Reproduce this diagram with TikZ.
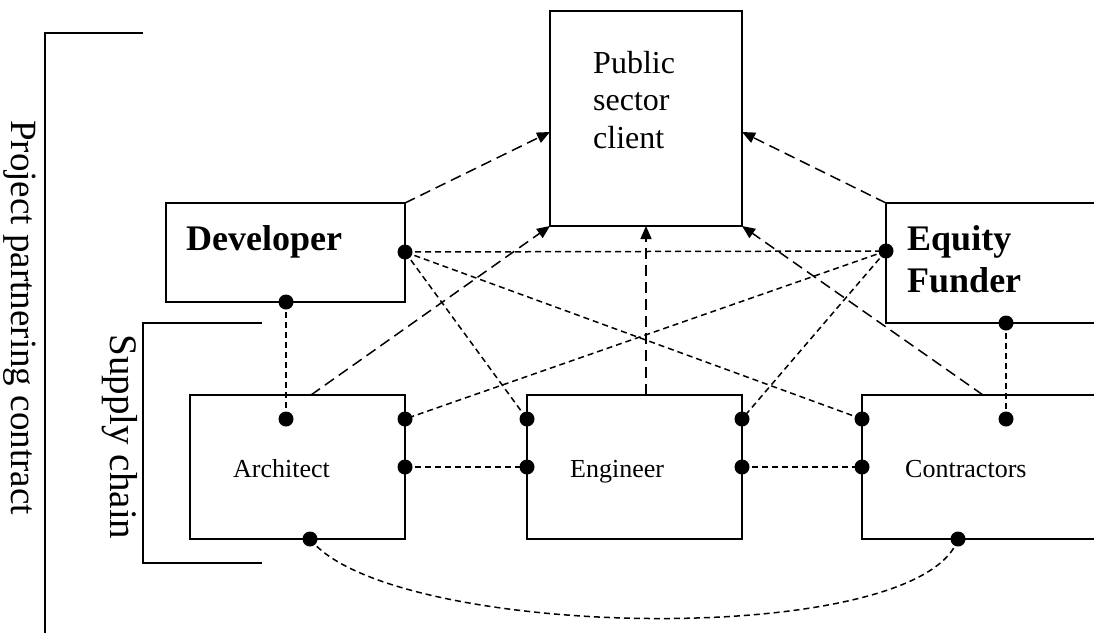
\documentclass[tikz,border=0pt]{standalone}
\usepackage{fontspec}
\setmainfont{Liberation Serif}
\usetikzlibrary{arrows.meta}
\begin{document}
\begin{tikzpicture}[x=1pt,y=-1pt,
 box/.style={draw, line width=1.8pt, inner sep=0pt, outer sep=0pt, rectangle},
 arr/.style={line width=1.5pt, dash pattern=on 11pt off 6pt, -{Triangle[length=13pt,width=11pt]}},
 lnk/.style={line width=1.5pt, dash pattern=on 6pt off 4pt},
 dot/.style={circle, fill=black, inner sep=0pt, outer sep=0pt, minimum size=15pt},
 lbl/.style={inner sep=0pt, anchor=base west, font=\fontsize{26}{30}\selectfont},
 big/.style={inner sep=0pt, anchor=base west, font=\fontsize{36}{42}\selectfont\bfseries},
 brk/.style={line width=1.8pt}]
\useasboundingbox (0,0) rectangle (1094,632);
\clip (0,0) rectangle (1094,632);

% boxes
\node[box, minimum width=192pt, minimum height=215pt] (pub) at (646,118.5) {};
\node[box, minimum width=239pt, minimum height=99pt] (dev) at (285.5,252.5) {};
\node[box, minimum width=214pt, minimum height=120pt] (eq) at (993,263) {};
\node[box, minimum width=215pt, minimum height=144pt] (arc) at (297.5,467) {};
\node[box, minimum width=215pt, minimum height=144pt] (eng) at (634.5,467) {};
\node[box, minimum width=238pt, minimum height=144pt] (con) at (981,467) {};

% labels
\node[inner sep=0pt, anchor=base west, font=\fontsize{32}{37.5}\selectfont] (publbl) at (593,73)
  {\begin{tabular}[t]{@{}l@{}}Public\\sector\\client\end{tabular}};
\node[big] (devlbl) at (186,250) {Developer};
\node[big] (eqlbl) at (907,250) {\begin{tabular}[t]{@{}l@{}}Equity\\Funder\end{tabular}};
\node[lbl] (arclbl) at (233,477) {Architect};
\node[lbl] (englbl) at (570,477) {Engineer};
\node[lbl] (conlbl) at (905,477) {Contractors};

\node[rotate=-90, anchor=base, inner sep=0pt, font=\fontsize{37}{40}\selectfont] (ppc) at (12,317.5) {Project partnering contract};
\node[rotate=-90, anchor=base, inner sep=0pt, font=\fontsize{39}{42}\selectfont] (sc) at (110,437) {Supply chain};

% brackets
\draw[brk] (143,33) -- (45,33) -- (45,640);
\draw[brk] (262,323) -- (143,323) -- (143,563) -- (262,563);

% connection points
\coordinate (pubL) at (550,132);
\coordinate (pubR) at (742,132);
\coordinate (arcT) at (311,395);
\coordinate (engT) at (646,395);
\coordinate (conT) at (983,395);

\node[dot] (devR) at (405,252) {};
\node[dot] (devB) at (286,302) {};
\node[dot] (eqL) at (886,251) {};
\node[dot] (eqB) at (1006,323) {};
\node[dot] (arcI) at (286,419) {};
\node[dot] (arcR1) at (405,419) {};
\node[dot] (arcR2) at (405,467) {};
\node[dot] (arcB) at (310,539) {};
\node[dot] (engL1) at (527,419) {};
\node[dot] (engL2) at (527,467) {};
\node[dot] (engR1) at (742,419) {};
\node[dot] (engR2) at (742,467) {};
\node[dot] (conL1) at (862,419) {};
\node[dot] (conL2) at (862,467) {};
\node[dot] (conI) at (1006,419) {};
\node[dot] (conB) at (958,539) {};

% arrows to public sector client
\draw[arr] (dev.north east) -- (pubL);
\draw[arr] (eq.north west) -- (pubR);
\draw[arr] (arcT) -- (pub.south west);
\draw[arr] (engT) -- (pub.south);
\draw[arr] (conT) -- (pub.south east);

% links
\draw[lnk] (devR.center) -- (eqL.center);
\draw[lnk] (devR.center) -- (engL1.center);
\draw[lnk] (devR.center) -- (conL1.center);
\draw[lnk] (eqL.center) -- (arcR1.center);
\draw[lnk] (eqL.center) -- (engR1.center);
\draw[lnk] (devB.center) -- (arcI.center);
\draw[lnk] (eqB.center) -- (conI.center);
\draw[lnk] (arcR2.center) -- (engL2.center);
\draw[lnk] (engR2.center) -- (conL2.center);
\draw[lnk] (arcB.center) .. controls (390,640) and (920,650) .. (conB.center);
\end{tikzpicture}
\end{document}
